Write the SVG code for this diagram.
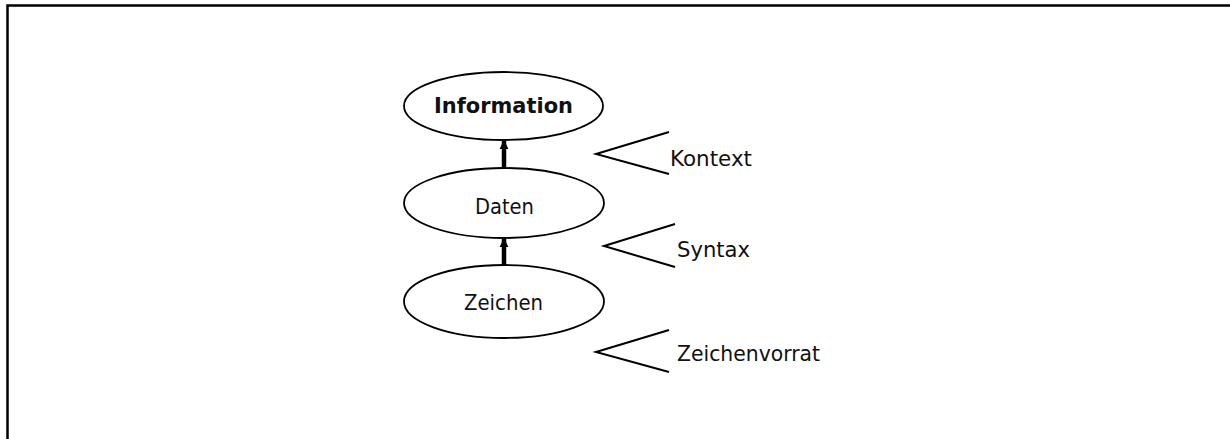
<svg xmlns="http://www.w3.org/2000/svg" width="1230" height="439" viewBox="0 0 1230 439">
<style>
.node ellipse{fill:#fff;stroke:#000;stroke-width:1.8}
.t{font-family:"DejaVu Sans",Verdana,sans-serif;font-size:21px;fill:#111}
.b{font-weight:bold}
.wedge{fill:none;stroke:#000;stroke-width:2}
.shaft{stroke:#000;stroke-width:4.5}
</style>
<defs>
<marker id="ah" viewBox="0 0 10 10" refX="9" refY="5" markerWidth="2" markerHeight="2.2" orient="auto" markerUnits="strokeWidth">
<path d="M0,0 L10,5 L0,10 z" fill="#000"/>
</marker>
</defs>
<rect width="1230" height="439" fill="#fff"/>
<path d="M7.5,439 V5.5 H1230" fill="none" stroke="#000" stroke-width="2.5"/>
<g id="node-information" class="node">
<ellipse cx="503.5" cy="106" rx="99.5" ry="34"/>
<text class="t b" x="434" y="112.5" textLength="139" lengthAdjust="spacingAndGlyphs">Information</text>
</g>
<g id="node-daten" class="node">
<ellipse cx="504" cy="203" rx="100" ry="35"/>
<text class="t" x="475" y="213.5" textLength="59" lengthAdjust="spacingAndGlyphs">Daten</text>
</g>
<g id="node-zeichen" class="node">
<ellipse cx="504" cy="301.5" rx="100" ry="36.5"/>
<text class="t" x="464" y="310" textLength="79" lengthAdjust="spacingAndGlyphs">Zeichen</text>
</g>
<g id="connectors">
<line class="shaft" x1="504" y1="168" x2="504" y2="141" marker-end="url(#ah)"/>
<line class="shaft" x1="504" y1="266" x2="504" y2="239" marker-end="url(#ah)"/>
</g>
<g id="label-kontext">
<polyline class="wedge" points="669,132 596,154 669,174"/>
<text class="t" x="670" y="166" textLength="82" lengthAdjust="spacingAndGlyphs">Kontext</text>
</g>
<g id="label-syntax">
<polyline class="wedge" points="675,224 604,246 675,267"/>
<text class="t" x="677" y="257" textLength="73" lengthAdjust="spacingAndGlyphs">Syntax</text>
</g>
<g id="label-zeichenvorrat">
<polyline class="wedge" points="669,330 596,352 669,372"/>
<text class="t" x="677" y="361" textLength="143" lengthAdjust="spacingAndGlyphs">Zeichenvorrat</text>
</g>
</svg>
